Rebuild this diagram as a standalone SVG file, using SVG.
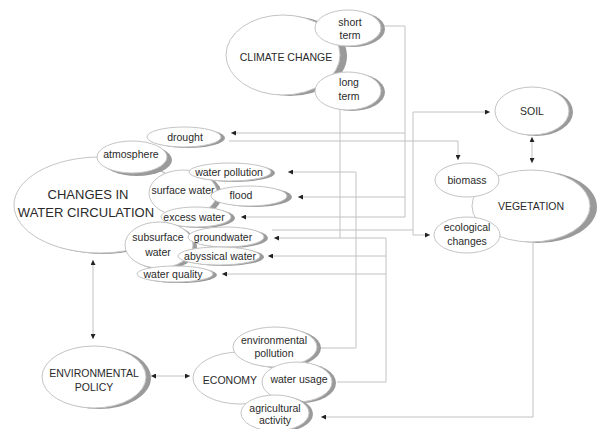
<svg xmlns="http://www.w3.org/2000/svg" width="599" height="429" viewBox="0 0 599 429">
<defs>
<style>
.bg{fill:#ffffff}
.sh{fill:#9a9a9a;stroke:none}
.b{fill:#ffffff;stroke:#c4c4c4;stroke-width:1}
.t{font-family:"Liberation Sans",Arial,sans-serif;font-size:10.5px;fill:#2a2a2a;text-anchor:middle}
.tb{font-size:13px}
.c{fill:none;stroke:#c2c2c2;stroke-width:1}
</style>
<marker id="ah" viewBox="0 0 6 6" refX="6" refY="3" markerWidth="5" markerHeight="5" orient="auto-start-reverse" markerUnits="userSpaceOnUse">
<path d="M0 0 L6 3 L0 6 z" fill="#222"/>
</marker>
</defs>
<rect class="bg" x="0" y="0" width="599" height="429"/>

<g id="connectors">
<path class="c" d="M383 26 H405 V217 H241" marker-end="url(#ah)"/>
<path class="c" d="M405 133 H231" marker-end="url(#ah)"/>
<path class="c" d="M405 197 H298" marker-end="url(#ah)"/>
<path class="c" d="M229 141 H458 V160" marker-end="url(#ah)"/>
<path class="c" d="M340 109 V238"/>
<path class="c" d="M337 382 H386 V238 H274" marker-end="url(#ah)"/>
<path class="c" d="M386 256 H268" marker-end="url(#ah)"/>
<path class="c" d="M386 274 H222" marker-end="url(#ah)"/>
<path class="c" d="M318 348 H356 V172 H288" marker-end="url(#ah)"/>
<path class="c" d="M272 230 H413"/>
<path class="c" d="M413 112 V235 H430" marker-end="url(#ah)"/>
<path class="c" d="M413 112 H490" marker-end="url(#ah)"/>
<path class="c" d="M532 137 V163" marker-start="url(#ah)" marker-end="url(#ah)"/>
<path class="c" d="M533 243 V417 H321" marker-end="url(#ah)"/>
<path class="c" d="M93 260 V339" marker-start="url(#ah)" marker-end="url(#ah)"/>
<path class="c" d="M151 376 H190" marker-start="url(#ah)" marker-end="url(#ah)"/>
</g>

<g id="climate-change">
<ellipse class="sh" cx="290" cy="56" rx="57" ry="40"/>
<ellipse class="b" cx="283" cy="55" rx="57" ry="40"/>
<text class="t" x="286" y="61">CLIMATE CHANGE</text>
</g>
<g id="short-term">
<ellipse class="sh" cx="352" cy="29" rx="33" ry="18"/>
<ellipse class="b" cx="348" cy="28" rx="33" ry="18"/>
<text class="t" x="350" y="26">short</text>
<text class="t" x="350" y="39">term</text>
</g>
<g id="long-term">
<ellipse class="sh" cx="352" cy="92" rx="33" ry="19"/>
<ellipse class="b" cx="348" cy="91" rx="33" ry="19"/>
<text class="t" x="349" y="86">long</text>
<text class="t" x="349" y="100">term</text>
</g>

<g id="water-circulation">
<ellipse class="sh" cx="103" cy="206" rx="86" ry="48"/>
<ellipse class="b" cx="100" cy="205" rx="86" ry="48"/>
<text class="t tb" x="88" y="199">CHANGES IN</text>
<text class="t tb" x="86" y="217">WATER CIRCULATION</text>
</g>
<g id="atmosphere">
<ellipse class="sh" cx="137" cy="160" rx="35" ry="16"/>
<ellipse class="b" cx="132" cy="157" rx="35" ry="16"/>
<text class="t" x="131" y="158">atmosphere</text>
</g>
<g id="drought">
<ellipse class="sh" cx="188" cy="138" rx="37" ry="10"/>
<ellipse class="b" cx="184" cy="137" rx="37" ry="10"/>
<text class="t" x="185" y="141">drought</text>
</g>
<g id="surface-water">
<ellipse class="sh" cx="188" cy="195" rx="34" ry="23"/>
<ellipse class="b" cx="183" cy="193" rx="34" ry="23"/>
<text class="t" x="183" y="194">surface water</text>
</g>
<g id="water-pollution">
<ellipse class="sh" cx="234" cy="173" rx="41" ry="9"/>
<ellipse class="b" cx="230" cy="172" rx="41" ry="9"/>
<text class="t" x="229" y="176">water pollution</text>
</g>
<g id="flood">
<ellipse class="sh" cx="254" cy="197" rx="38" ry="10"/>
<ellipse class="b" cx="249" cy="196" rx="38" ry="10"/>
<text class="t" x="241" y="199">flood</text>
</g>
<g id="excess-water">
<ellipse class="sh" cx="200" cy="218" rx="35" ry="10"/>
<ellipse class="b" cx="196" cy="217" rx="35" ry="10"/>
<text class="t" x="194" y="221">excess water</text>
</g>
<g id="subsurface-water">
<ellipse class="sh" cx="163" cy="247" rx="34" ry="23"/>
<ellipse class="b" cx="159" cy="245" rx="34" ry="23"/>
<text class="t" x="158" y="241">subsurface</text>
<text class="t" x="158" y="256">water</text>
</g>
<g id="groundwater">
<ellipse class="sh" cx="230" cy="238" rx="38" ry="10"/>
<ellipse class="b" cx="226" cy="237" rx="38" ry="10"/>
<text class="t" x="223" y="241">groundwater</text>
</g>
<g id="abyssical-water">
<ellipse class="sh" cx="223" cy="257" rx="41" ry="9"/>
<ellipse class="b" cx="219" cy="256" rx="41" ry="9"/>
<text class="t" x="220" y="260">abyssical water</text>
</g>
<g id="water-quality">
<ellipse class="sh" cx="179" cy="275" rx="38" ry="8"/>
<ellipse class="b" cx="175" cy="274" rx="38" ry="8"/>
<text class="t" x="173" y="278">water quality</text>
</g>

<g id="soil">
<ellipse class="sh" cx="536" cy="112" rx="37" ry="24"/>
<ellipse class="b" cx="532" cy="111" rx="37" ry="24"/>
<text class="t" x="532" y="115">SOIL</text>
</g>
<g id="vegetation">
<ellipse class="sh" cx="538" cy="207" rx="59" ry="36"/>
<ellipse class="b" cx="531" cy="206" rx="59" ry="36"/>
<text class="t" x="531" y="210">VEGETATION</text>
</g>
<g id="biomass">
<ellipse class="b" cx="467" cy="180" rx="32" ry="17"/>
<text class="t" x="467" y="184">biomass</text>
</g>
<g id="ecological-changes">
<ellipse class="b" cx="467" cy="235" rx="33" ry="18"/>
<text class="t" x="467" y="231">ecological</text>
<text class="t" x="467" y="245">changes</text>
</g>

<g id="environmental-policy">
<ellipse class="sh" cx="99" cy="378" rx="52" ry="31"/>
<ellipse class="b" cx="94" cy="377" rx="52" ry="31"/>
<text class="t" x="94" y="377">ENVIRONMENTAL</text>
<text class="t" x="94" y="391">POLICY</text>
</g>
<g id="economy">
<ellipse class="b" cx="240" cy="378" rx="47" ry="26"/>
<text class="t" x="230" y="384">ECONOMY</text>
</g>
<g id="environmental-pollution">
<ellipse class="sh" cx="279" cy="348" rx="42" ry="20"/>
<ellipse class="b" cx="275" cy="347" rx="42" ry="20"/>
<text class="t" x="274" y="344">environmental</text>
<text class="t" x="274" y="357">pollution</text>
</g>
<g id="water-usage">
<ellipse class="sh" cx="301" cy="383" rx="35" ry="20"/>
<ellipse class="b" cx="297" cy="382" rx="35" ry="20"/>
<text class="t" x="299" y="383">water usage</text>
</g>
<g id="agricultural-activity">
<ellipse class="sh" cx="279" cy="414" rx="34" ry="18"/>
<ellipse class="b" cx="275" cy="413" rx="34" ry="18"/>
<text class="t" x="275" y="412">agricultural</text>
<text class="t" x="275" y="424">activity</text>
</g>
</svg>
